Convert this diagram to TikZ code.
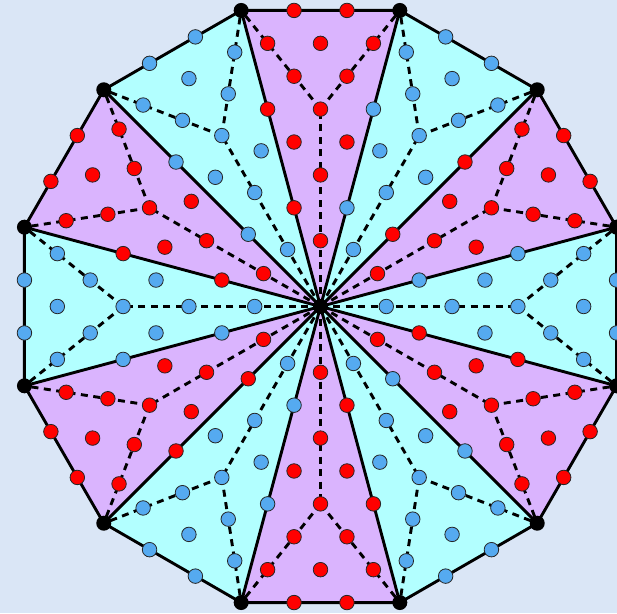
\documentclass[tikz,border=0pt]{standalone}
\usetikzlibrary{calc}
\definecolor{bgblue}{RGB}{218,230,246}
\definecolor{lilac}{RGB}{218,180,254}
\definecolor{aqua}{RGB}{178,255,255}
\definecolor{dotred}{RGB}{255,0,0}
\definecolor{dotblue}{RGB}{85,170,240}
\tikzset{
  dotnode/.style={circle,draw=black!85,line width=0.8pt,inner sep=0pt,minimum size=14.5pt},
  dot0/.style={dotnode,fill=dotred},
  dot1/.style={dotnode,fill=dotblue},
  tri0/.style={fill=lilac},
  tri1/.style={fill=aqua},
  vertexdot/.style={circle,fill=black,inner sep=0pt,minimum size=15pt},
  edgeline/.style={line width=2.9pt,line join=round},
  dashline/.style={line width=2.9pt,dash pattern=on 7pt off 5.5pt},
}
\begin{document}
\begin{tikzpicture}[x=1pt,y=1pt]
\useasboundingbox (-320.5,-306.5) rectangle (296.5,306.5);
\fill[bgblue] (-320.5,-306.5) rectangle (296.5,306.5);
\def\R{306.5}
\coordinate (O) at (0,0);
\foreach \k in {0,...,11}{
  \coordinate (V\k) at ({105-30*\k}:\R);
  \coordinate (P\k) at ({90-30*\k}:{2/3*\R*cos(15)});
}
% triangles
\foreach \k in {0,...,11}{
  \pgfmathtruncatemacro\n{mod(\k+1,12)}
  \pgfmathtruncatemacro\odd{mod(\k,2)}
  \fill[tri\odd] (O) -- (V\k) -- (V\n) -- cycle;
}
% dashed subdivision
\foreach \k in {0,...,11}{
  \pgfmathtruncatemacro\n{mod(\k+1,12)}
  \draw[dashline] (O) -- (P\k);
  \draw[dashline] (P\k) -- (V\k);
  \draw[dashline] (P\k) -- (V\n);
}
% solid edges
\foreach \k in {0,...,11}{
  \draw[edgeline] (O) -- (V\k);
}
\draw[edgeline] (V0) -- (V1) -- (V2) -- (V3) -- (V4) -- (V5) -- (V6) -- (V7) -- (V8) -- (V9) -- (V10) -- (V11) -- cycle;
% dots
\foreach \k in {0,...,11}{
  \pgfmathtruncatemacro\n{mod(\k+1,12)}
  \pgfmathtruncatemacro\odd{mod(\k,2)}
  \node[dot\odd] (ab1-\k) at ($(V\k)!1/3!(V\n)$) {};
  \node[dot\odd] (ab2-\k) at ($(V\k)!2/3!(V\n)$) {};
  \node[dot\odd] (op1-\k) at ($(O)!1/3!(P\k)$) {};
  \node[dot\odd] (op2-\k) at ($(O)!2/3!(P\k)$) {};
  \node[dot\odd] (pa1-\k) at ($(P\k)!1/3!(V\k)$) {};
  \node[dot\odd] (pa2-\k) at ($(P\k)!2/3!(V\k)$) {};
  \node[dot\odd] (pb1-\k) at ($(P\k)!1/3!(V\n)$) {};
  \node[dot\odd] (pb2-\k) at ($(P\k)!2/3!(V\n)$) {};
  \node[dot\odd] (ca-\k) at ($0.33333*(P\k)+0.33333*(V\k)$) {};
  \node[dot\odd] (cb-\k) at ($0.33333*(P\k)+0.33333*(V\n)$) {};
  \node[dot\odd] (cc-\k) at ($0.33333*(P\k)+0.33333*(V\k)+0.33333*(V\n)$) {};
  \node[dot\odd] (pc-\k) at (P\k) {};
  \node[dot\odd] (ov1-\k) at ($(O)!1/3!(V\k)$) {};
  \node[dot\odd] (ov2-\k) at ($(O)!2/3!(V\k)$) {};
}
\foreach \k in {0,...,11}{
  \node[vertexdot] (vd\k) at (V\k) {};
}
\node[vertexdot] (od) at (O) {};
\end{tikzpicture}
\end{document}
